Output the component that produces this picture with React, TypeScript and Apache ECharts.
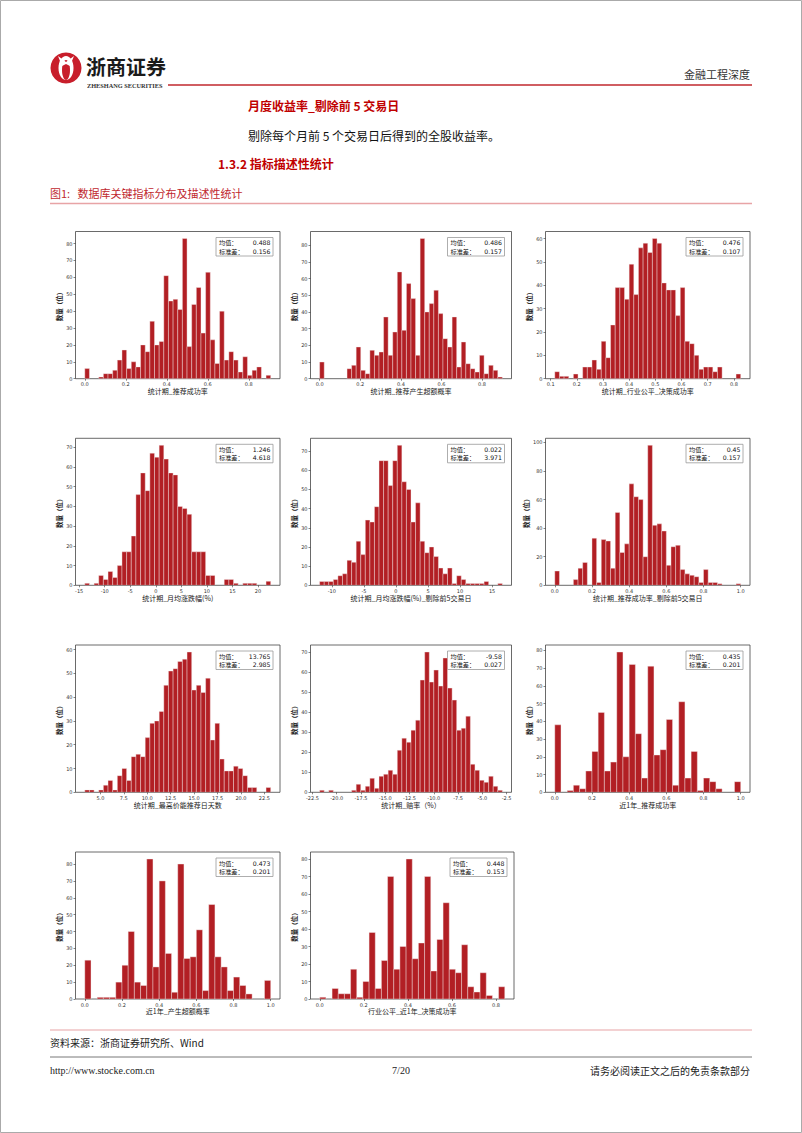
import React, { useEffect, useRef } from "react";
import * as echarts from "echarts";

// ---------- data ----------
const xNames = [
  "统计期_推荐成功率",
  "统计期_推荐产生超额概率",
  "统计期_行业公平_决策成功率",
  "统计期_月均涨跌幅(%)",
  "统计期_月均涨跌幅(%)_剔除前5交易日",
  "统计期_推荐成功率_剔除前5交易日",
  "统计期_最高价能推荐日天数",
  "统计期_赔率（%）",
  "近1年_推荐成功率",
  "近1年_产生超额概率",
  "行业公平_近1年_决策成功率",
];

const countsSucc = [6,0,0,1,3,3,5,11,17,6,10,7,20,16,34,20,22,61,46,47,41,83,19,44,54,27,63,23,9,40,11,16,11,4,13,2,5,7,0,2];
const countsExcess = [10,0,0,0,0,0,6,8,19,5,3,17,14,16,37,14,28,64,29,57,48,14,84,40,45,53,39,24,19,37,7,22,9,6,4,14,3,8,5,1];
const countsIndFair = [3,1,1,0,2,0,5,5,8,4,16,9,23,39,39,34,49,36,56,58,54,60,58,41,38,38,27,39,16,15,10,4,5,5,3,5,0,0,0,2];
const countsMonthRet = [1,0,1,5,3,7,4,10,17,17,25,46,57,48,67,65,71,64,57,56,40,39,36,17,17,17,5,5,0,0,3,3,1,0,1,1,1,0,0,2];
const countsMonthRetEx = [2,2,2,3,5,6,13,12,23,16,34,33,41,65,65,52,65,73,54,50,33,43,23,17,20,15,9,6,9,1,5,3,1,1,1,1,2,0,0,1];
const countsSuccEx = [10,0,0,0,4,12,16,0,33,2,32,31,12,51,23,29,71,62,60,20,98,42,43,38,14,27,28,11,8,7,6,2,11,2,2,1,0,0,0,1];
const countsHighDays = [1,1,0,1,3,5,1,7,10,5,15,16,15,23,29,30,34,45,51,52,55,56,59,43,45,42,48,22,29,14,9,9,11,10,7,2,2,0,0,2];
const countsOdds = [1,0,1,0,0,0,0,1,4,1,3,7,2,8,9,11,9,21,27,25,31,36,56,70,55,61,53,67,52,46,31,32,38,14,11,6,5,8,3,1];
const countsSucc1Y = [38,0,1,4,2,12,23,45,12,17,79,20,72,33,8,71,21,24,41,4,51,8,23,1,8,6,2,0,0,6];
const countsExcess1Y = [23,0,1,1,1,10,20,40,10,8,83,19,70,27,4,80,24,25,41,5,56,25,19,5,13,8,3,0,0,11];
const countsIndFair1Y = [1,0,6,3,3,17,1,10,38,6,22,70,17,30,80,23,32,70,16,34,55,17,15,31,7,4,15,2,0,7];

// data range (min, max) of each histogram
const dataRanges = [
  [0, 0.907], [0, 0.9], [0.116, 0.826], [-13.9, 22.5], [-11.9, 16.6], [0, 1],
  [3.34, 23.17], [-21.76, -2.94], [0, 1], [0, 1], [0, 0.84],
];

const xTicksA = [0.0, 0.2, 0.4, 0.6, 0.8];
const xTicksB = [0.1, 0.2, 0.3, 0.4, 0.5, 0.6, 0.7, 0.8];
const xTicksC = [-15, -10, -5, 0, 5, 10, 15, 20];
const xTicksD = [-10, -5, 0, 5, 10, 15];
const xTicksE = [0.0, 0.2, 0.4, 0.6, 0.8, 1.0];
const xTicksF = [5.0, 7.5, 10.0, 12.5, 15.0, 17.5, 20.0, 22.5];
const xTicksG = [-22.5, -20.0, -17.5, -15.0, -12.5, -10.0, -7.5, -5.0, -2.5];
const xTickDecimals = [1, 1, 1, 0, 0, 1, 1, 1, 1, 1, 1];

const yTicks80 = [0, 10, 20, 30, 40, 50, 60, 70, 80];
const yTicks70 = [0, 10, 20, 30, 40, 50, 60, 70];
const yTicks60 = [0, 10, 20, 30, 40, 50, 60];
const yTicks100 = [0, 20, 40, 60, 80, 100];

const means = ["0.488", "0.486", "0.476", "1.246", "0.022", "0.45", "13.765", "-9.58", "0.435", "0.473", "0.448"];
const stds = ["0.156", "0.157", "0.107", "4.618", "3.971", "0.157", "2.985", "0.027", "0.201", "0.201", "0.153"];

// ---------- layout ----------
const RED = "#B21F24";
const rows = [[231.5, 378.7], [438.3, 585.3], [645, 792.3], [852, 999]];
const cols = [[75.5, 280], [310.5, 511.5], [545.5, 750]];
const CJK = "'Noto Sans CJK SC', sans-serif";

const allCounts = [countsSucc, countsExcess, countsIndFair, countsMonthRet, countsMonthRetEx, countsSuccEx, countsHighDays, countsOdds, countsSucc1Y, countsExcess1Y, countsIndFair1Y];
const allXTicks = [xTicksA, xTicksA, xTicksB, xTicksC, xTicksD, xTicksE, xTicksF, xTicksG, xTicksE, xTicksE, xTicksA];
const allYTicks = [yTicks80, yTicks80, yTicks60, yTicks70, yTicks70, yTicks100, yTicks60, yTicks70, yTicks80, yTicks80, yTicks80];

function buildOption() {
  const grid: any[] = [];
  const xAxis: any[] = [];
  const yAxis: any[] = [];
  const series: any[] = [];
  const graphic: any[] = [];

  allCounts.forEach((counts, i) => {
    const r = Math.floor(i / 3);
    const c = i % 3;
    const [top, bottom] = rows[r];
    const left = cols[c][0];
    const right = i === 10 ? 514 : cols[c][1];
    grid.push({
      left, top, width: right - left, height: bottom - top,
      show: true, borderColor: "#444", borderWidth: 0.8, backgroundColor: "#fff",
      containLabel: false,
    });
    const [dmin, dmax] = dataRanges[i];
    const span = dmax - dmin;
    const n = counts.length;
    const peak = Math.max(...counts);
    const dec = xTickDecimals[i];
    xAxis.push({
      type: "value", gridIndex: i,
      min: dmin - 0.05 * span, max: dmax + 0.05 * span,
      axisLine: { show: false, onZero: false },
      axisTick: { show: true, length: 2, customValues: allXTicks[i], lineStyle: { color: "#333", width: 0.6 } },
      axisLabel: {
        customValues: allXTicks[i], fontSize: 5, margin: 3, color: "#333",
        formatter: (v: number) => v.toFixed(dec), fontFamily: "DejaVu Sans",
      },
      splitLine: { show: false },
      name: xNames[i], nameLocation: "middle", nameGap: 8,
      nameTextStyle: { fontSize: 7, color: "#222", fontFamily: CJK },
    });
    yAxis.push({
      type: "value", gridIndex: i, min: 0, max: peak * 1.05,
      axisLine: { show: false, onZero: false },
      axisTick: { show: true, length: 2, customValues: allYTicks[i], lineStyle: { color: "#333", width: 0.6 } },
      axisLabel: { customValues: allYTicks[i], fontSize: 5, margin: 3, color: "#333", fontFamily: "DejaVu Sans" },
      splitLine: { show: false },
      name: "数量（位）", nameLocation: "middle", nameGap: 11,
      nameTextStyle: { fontSize: 6.5, color: "#222", fontWeight: "bold", fontFamily: CJK },
    });
    const data = counts.map((cnt, k) => [dmin + (span * k) / n, dmin + (span * (k + 1)) / n, cnt]);
    series.push({
      type: "custom", xAxisIndex: i, yAxisIndex: i, data, clip: true,
      encode: { x: [0, 1], y: 2 },
      renderItem: (_p: any, api: any) => {
        const cnt = api.value(2);
        if (!cnt) return { type: "group", children: [] };
        const p0 = api.coord([api.value(0), cnt]);
        const p1 = api.coord([api.value(1), 0]);
        return {
          type: "rect",
          shape: { x: p0[0], y: p0[1], width: p1[0] - p0[0], height: p1[1] - p0[1] },
          style: { fill: RED, stroke: "#f4eded", lineWidth: 0.4 },
        };
      },
    });
    // stats box
    const bw = 57, bh = 18.5;
    const bx = right - 7 - bw, by = top + 6;
    const txt = { fontSize: 6.2, fill: "#111", verticalAlign: "middle", lineHeight: 7 };
    graphic.push({
      type: "group", x: bx, y: by, z: 100,
      children: [
        { type: "rect", shape: { x: 0, y: 0, width: bw, height: bh }, style: { fill: "#fff", stroke: "#999", lineWidth: 0.8 } },
        { type: "text", x: 3, y: 5, style: { ...txt, text: "均值：", fontFamily: CJK } },
        { type: "text", x: bw - 2.5, y: 5, style: { ...txt, text: means[i], fontFamily: "DejaVu Sans", align: "right" } },
        { type: "text", x: 3, y: 13.5, style: { ...txt, text: "标准差：", fontFamily: CJK } },
        { type: "text", x: bw - 2.5, y: 13.5, style: { ...txt, text: stds[i], fontFamily: "DejaVu Sans", align: "right" } },
      ],
    });
  });

  // page decorations
  graphic.push(
    { type: "rect", shape: { x: 0.5, y: 0.5, width: 801, height: 1132 }, style: { fill: "none", stroke: "#aaa", lineWidth: 1 } },
    // logo
    { type: "circle", shape: { cx: 66, cy: 68, r: 15.5 }, style: { fill: "#C81E2B" } },
    { type: "ellipse", shape: { cx: 66, cy: 68, rx: 7.5, ry: 12 }, style: { fill: "#fff" } },
    { type: "ellipse", shape: { cx: 66, cy: 70, rx: 4, ry: 10 }, style: { fill: "#C81E2B" } },
    { type: "polygon", shape: { points: [[58, 56], [66, 62], [74, 56], [70, 66], [66, 64], [62, 66]] }, style: { fill: "#fff" } },
    { type: "text", x: 86, y: 66, style: { text: "浙商证券", fontSize: 20, fontWeight: "bold", fill: "#1a1a1a", fontFamily: CJK, verticalAlign: "middle" } },
    { type: "text", x: 87, y: 85, style: { text: "ZHESHANG SECURITIES", fontSize: 6.3, fontWeight: "bold", fill: "#333", fontFamily: "Liberation Serif", verticalAlign: "middle" } },
    { type: "line", shape: { x1: 168, y1: 85, x2: 752, y2: 85 }, style: { stroke: "#C0282E", lineWidth: 1.5 } },
    { type: "text", x: 750, y: 74, style: { text: "金融工程深度", fontSize: 11, fill: "#333", fontFamily: CJK, align: "right", verticalAlign: "middle" } },
    { type: "text", x: 248, y: 105, style: { text: "月度收益率_剔除前 5 交易日", fontSize: 12, fontWeight: "bold", fill: "#C00000", fontFamily: CJK, verticalAlign: "middle" } },
    { type: "text", x: 248, y: 135, style: { text: "剔除每个月前 5 个交易日后得到的全股收益率。", fontSize: 12, fill: "#111", fontFamily: CJK, verticalAlign: "middle" } },
    { type: "text", x: 218, y: 163, style: { text: "1.3.2 指标描述性统计", fontSize: 12, fontWeight: "bold", fill: "#C00000", fontFamily: CJK, verticalAlign: "middle" } },
    { type: "text", x: 50, y: 193, style: { text: "图1:   数据库关键指标分布及描述性统计", fontSize: 11, fill: "#C0282E", fontFamily: CJK, verticalAlign: "middle" } },
    { type: "line", shape: { x1: 50, y1: 203.5, x2: 752, y2: 203.5 }, style: { stroke: "#E8A4A6", lineWidth: 1.5 } },
    { type: "line", shape: { x1: 50, y1: 1030, x2: 752, y2: 1030 }, style: { stroke: "#E8A4A6", lineWidth: 1.2 } },
    { type: "text", x: 50, y: 1042, style: { text: "资料来源：浙商证券研究所、Wind", fontSize: 10, fill: "#222", fontFamily: CJK, verticalAlign: "middle" } },
    { type: "line", shape: { x1: 50, y1: 1057, x2: 752, y2: 1057 }, style: { stroke: "#555", lineWidth: 0.8 } },
    { type: "text", x: 50, y: 1070, style: { text: "http://www.stocke.com.cn", fontSize: 10, fill: "#222", fontFamily: "Liberation Serif", verticalAlign: "middle" } },
    { type: "text", x: 401, y: 1070, style: { text: "7/20", fontSize: 10, fill: "#222", fontFamily: "Liberation Serif", align: "center", verticalAlign: "middle" } },
    { type: "text", x: 750, y: 1070, style: { text: "请务必阅读正文之后的免责条款部分", fontSize: 10, fill: "#222", fontFamily: CJK, align: "right", verticalAlign: "middle" } },
  );

  return { animation: false, backgroundColor: "#fff", grid, xAxis, yAxis, series, graphic };
}

export default function App() {
  const ref = useRef<HTMLDivElement>(null);
  useEffect(() => {
    document.body.style.margin = "0";
    const chart = echarts.init(ref.current!, undefined, { renderer: "svg" });
    chart.setOption(buildOption() as any);
    return () => chart.dispose();
  }, []);
  return <div ref={ref} style={{ width: 802, height: 1133 }} />;
}
